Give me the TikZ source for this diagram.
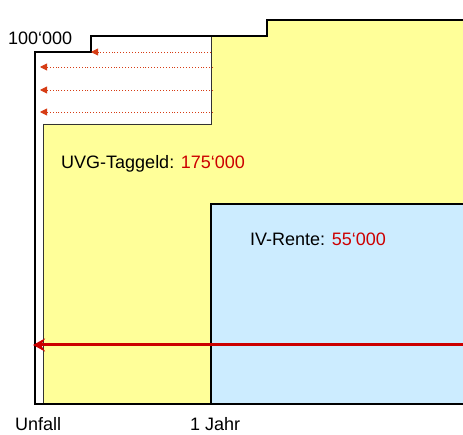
\documentclass[tikz,border=0pt]{standalone}
\usepackage{fontspec}
\setmainfont{Liberation Sans}
\usetikzlibrary{arrows.meta}
\definecolor{uvgyellow}{RGB}{255,255,153}
\definecolor{ivblue}{RGB}{204,236,255}
\definecolor{txtred}{RGB}{204,0,0}
\definecolor{dotred}{RGB}{214,60,20}
\begin{document}
\begin{tikzpicture}[x=1pt,y=-1pt,
  lbl/.style={anchor=base west,inner sep=0pt,font=\fontsize{18}{20}\selectfont},
  edge/.style={line width=1.2pt,black},
  dotarrow/.style={dotred,line width=0.9pt,dotted,-{Triangle[length=7pt,width=7pt]}},
  bigarrow/.style={txtred,line width=3pt,-{Stealth[length=12pt,width=13pt,inset=4pt]}}]
\useasboundingbox (0,0) rectangle (463,435);
% yellow region
\fill[uvgyellow] (211,36) -- (267,36) -- (267,20) -- (463,20) -- (463,404) -- (43,404) -- (43,124) -- (211,124) -- cycle;
\draw[line width=0.8pt,black!80] (211,36) -- (211,124) -- (43,124) -- (43,404);
% blue region
\fill[ivblue] (211,204) rectangle (463,404);
\draw[edge] (211,404) -- (211,204) -- (463,204);
% outer outline
\draw[edge] (463,20) -- (267,20) -- (267,36) -- (91,36) -- (91,52) -- (35,52) -- (35,404) -- (463,404);
% dotted arrows
\coordinate (a1s) at (211,52); \coordinate (a1e) at (91,52);
\coordinate (a2s) at (213,67); \coordinate (a2e) at (40,67);
\coordinate (a3s) at (213,90); \coordinate (a3e) at (40,90);
\coordinate (a4s) at (213,112); \coordinate (a4e) at (40,112);
\draw[dotarrow] (a1s) -- (a1e);
\draw[dotarrow] (a2s) -- (a2e);
\draw[dotarrow] (a3s) -- (a3e);
\draw[dotarrow] (a4s) -- (a4e);
% big arrow
\coordinate (bs) at (463,345); \coordinate (be) at (33,345);
\draw[bigarrow] (bs) -- (be);
% labels
\node[lbl] (top) at (8,45) {100‘000};
\node[lbl] (uvg) at (61,169) {UVG-Taggeld: \textcolor{txtred}{175‘000}};
\node[lbl] (iv) at (250,246) {IV-Rente: \textcolor{txtred}{55‘000}};
\node[lbl] (unfall) at (15,430) {Unfall};
\node[lbl] (jahr) at (190,430) {1 Jahr};
\end{tikzpicture}
\end{document}
